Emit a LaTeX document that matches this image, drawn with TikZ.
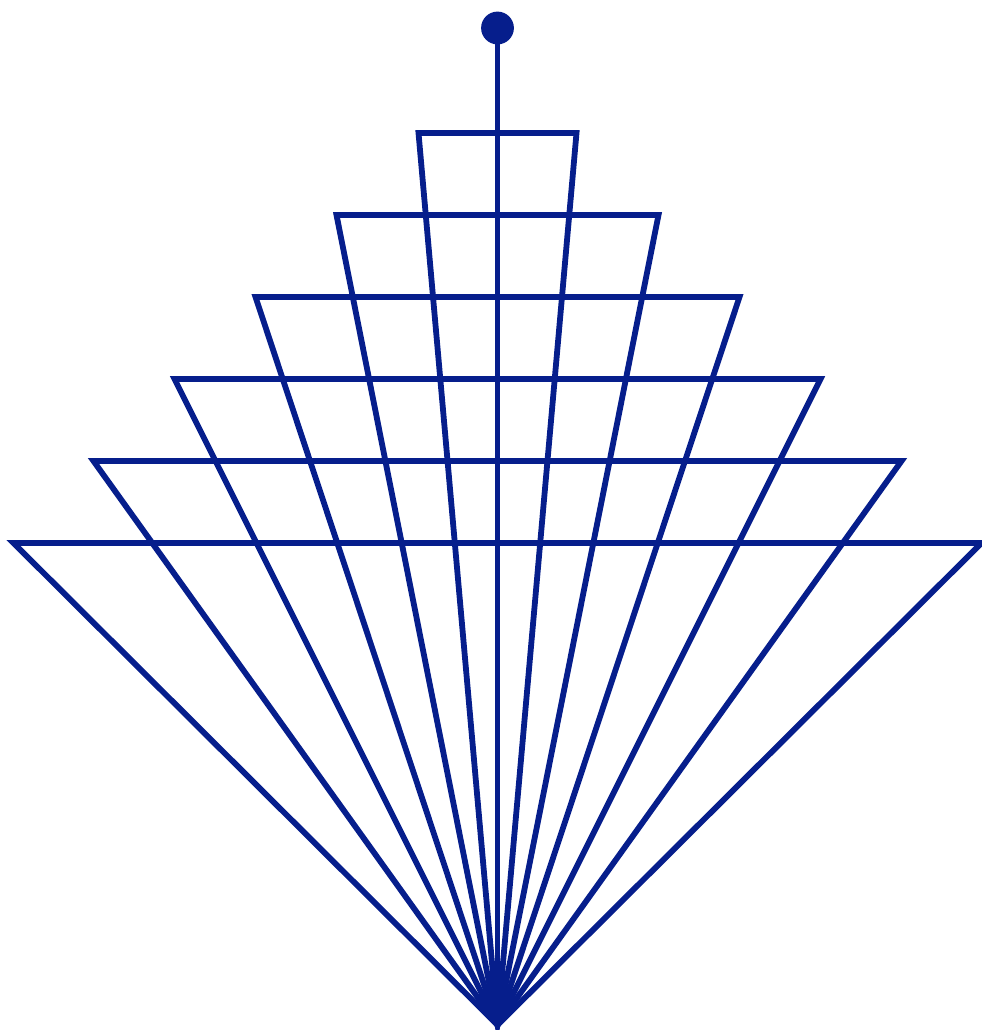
\documentclass[tikz,border=0pt]{standalone}
\usepackage{tikz}
\usetikzlibrary{calc}
\definecolor{fanblue}{RGB}{6,30,140}

\begin{document}
\begin{tikzpicture}[x=0.025cm, y=-0.025cm,
    rung/.style={draw=fanblue, line width=0.145cm, line join=miter},
    stem/.style={draw=fanblue, line width=0.145cm},
    knob/.style={circle, fill=fanblue, inner sep=0pt, minimum size=0.82cm}
]
    \useasboundingbox (0,0) rectangle (981,1030);

    % Apex of the fan
    \coordinate (apex) at (497.5,1025);

    % Nested triangles, one per rung (index/half width)
    \foreach \k/\w in {1/79,2/161,3/242,4/323,5/404,6/484} {
        \coordinate (L\k) at ({497.5-\w},{51+82*\k});
        \coordinate (R\k) at ({497.5+\w},{51+82*\k});
        \draw[rung] (apex) -- (L\k) -- (R\k) -- cycle;
    }

    % Stem and knob on top
    \node[knob] (knob) at (497.5,28) {};
    \draw[stem] (knob.center) -- (apex);
\end{tikzpicture}
\end{document}
